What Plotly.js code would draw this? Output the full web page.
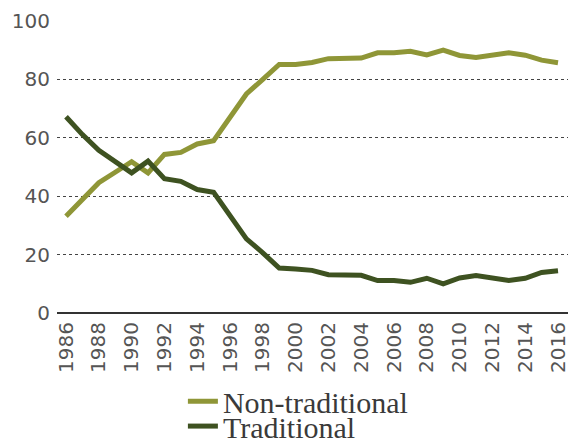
<!DOCTYPE html>
<html>
<head>
<meta charset="utf-8">
<script src="https://cdn.plot.ly/plotly-3.0.1.min.js"></script>
<style>html,body{margin:0;padding:0;background:#fff;}#chart{width:568px;height:442px;}</style>
</head>
<body>
<div id="chart"></div>
<script>
const years = [1986,1987,1988,1989,1990,1991,1992,1993,1994,1995,1996,1997,1998,1999,2000,2001,2002,2003,2004,2005,2006,2007,2008,2009,2010,2011,2012,2013,2014,2015,2016];
const nonTraditional = [33.1,39.1,44.6,48.2,51.8,48,54.3,55,57.9,59,66.8,75,80,85.1,85.1,85.8,87.1,87.1,87.3,89.1,89.1,89.6,88.4,90,88.2,87.5,88.1,89.1,88.3,86.6,85.7];
const traditional = [67.2,61.1,55.7,51.8,48,52,46,45.1,42.3,41.3,33.1,25.4,20.6,15.4,15.1,14.6,13.1,13,12.9,11.1,11.1,10.5,11.9,10,12,12.8,12.1,11.1,11.9,13.9,14.5];
const seriesNames = ["Non-traditional","Traditional"];
const tickYears = [1986,1988,1990,1992,1994,1996,1998,2000,2002,2004,2006,2008,2010,2012,2014,2016];
const tickLabels = tickYears.map(String);

const traces = [
  {x: years, y: nonTraditional, name: seriesNames[0], type: 'scatter', mode: 'lines',
   line: {color: '#8f9637', width: 5}, legend: 'legend'},
  {x: years, y: traditional, name: seriesNames[1], type: 'scatter', mode: 'lines',
   line: {color: '#3e5221', width: 5}, legend: 'legend2'}
];

const legendFont = {family: 'Liberation Serif', size: 30, color: '#3a3a3a'};
const layout = {
  width: 568, height: 442,
  margin: {l: 57, r: 0, t: 21, b: 129, autoexpand: false},
  paper_bgcolor: '#fff', plot_bgcolor: '#fff',
  showlegend: true,
  legend: {orientation: 'v', xref: 'container', yref: 'container', x: 0.322, xanchor: 'left',
    y: 0.092, yanchor: 'middle', font: legendFont, bgcolor: 'rgba(0,0,0,0)', borderwidth: 0},
  legend2: {orientation: 'v', xref: 'container', yref: 'container', x: 0.322, xanchor: 'left',
    y: 0.036, yanchor: 'middle', font: legendFont, bgcolor: 'rgba(0,0,0,0)', borderwidth: 0},
  xaxis: {range: [1985.45, 2016.61], tickvals: tickYears, ticktext: tickLabels, tickangle: -90,
    showgrid: false, zeroline: false, showline: false, ticks: '', automargin: false,
    ticklabeloverflow: 'allow', ticklabelstandoff: 4,
    tickfont: {family: 'DejaVu Sans', size: 20, color: '#555'}},
  yaxis: {range: [0, 100], dtick: 20, showgrid: true, gridcolor: '#444', griddash: 'dot', gridwidth: 1,
    zeroline: true, zerolinecolor: '#333', zerolinewidth: 2, showline: false, ticks: '', automargin: false,
    tickfont: {family: 'DejaVu Sans', size: 20, color: '#555'}, ticklabelstandoff: 6}
};

Plotly.newPlot('chart', traces, layout, {displayModeBar: false, staticPlot: true});
</script>
</body>
</html>
